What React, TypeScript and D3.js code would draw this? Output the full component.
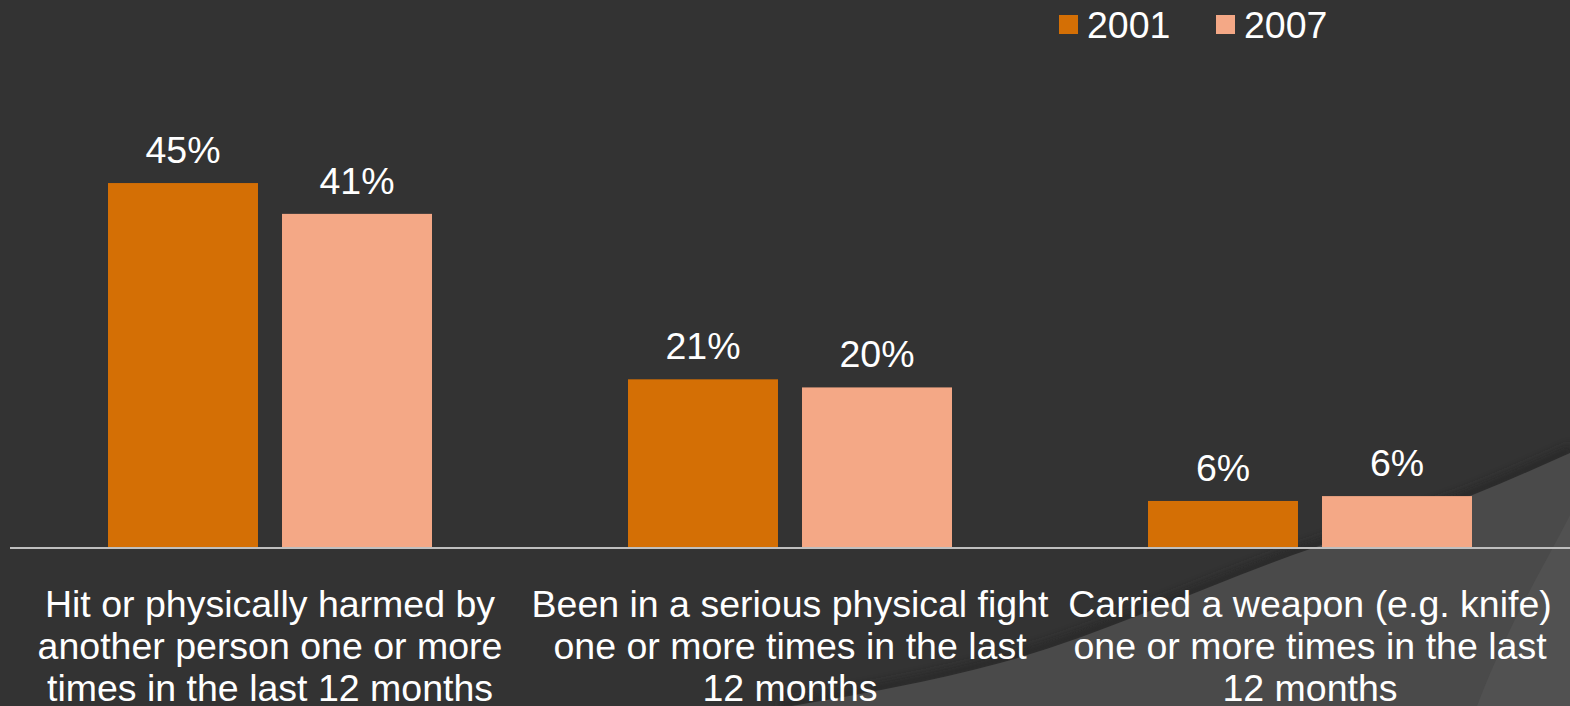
import React from "react";
import * as d3 from "d3";

const categories: string[][] = [
  ["Hit or physically harmed by", "another person one or more", "times in the last 12 months"],
  ["Been in a serious physical fight", "one or more times in the last", "12 months"],
  ["Carried a weapon (e.g. knife)", "one or more times in the last", "12 months"],
];
const seriesNames = ["2001", "2007"];
const values2001 = [45.0, 20.8, 5.8];
const values2007 = [41.2, 19.8, 6.4];
const colors = ["#D46F05", "#F4A886"];

const W = 1570;
const H = 706;

// background decoration edge (theme swoosh)
const swoosh: [number, number][] = [
  [780, 708],
  [1000, 663],
  [1313, 548],
  [1475, 494],
  [1572, 452],
];

export default function App() {
  const x0 = d3.scaleBand<number>().domain([0, 1, 2]).range([10, 1570]).paddingInner(0).paddingOuter(0);
  const groupW = 324;
  const x1 = d3
    .scaleBand<number>()
    .domain([0, 1])
    .range([0, groupW])
    .paddingInner(0.138)
    .paddingOuter(0);
  const y = d3.scaleLinear().domain([0, 50]).range([548, 142.5]);
  const series = [values2001, values2007];
  const font = "'Liberation Sans', Arial, sans-serif";
  const fs = 37.5;

  const edge = d3.line().curve(d3.curveMonotoneX)(swoosh) as string;
  const shadow = d3.line().curve(d3.curveMonotoneX)(swoosh.map(([a, b]) => [a, b - 3])) as string;

  return (
    <svg
      width={W}
      height={H}
      style={{ position: "absolute", left: 0, top: 0, display: "block" }}
      fontFamily={font}
    >
      <defs>
        <filter id="blur" x="-10%" y="-50%" width="120%" height="200%">
          <feGaussianBlur stdDeviation="4" />
        </filter>
      </defs>
      <rect x={0} y={0} width={W} height={H} fill="#333333" />
      <path d={shadow} fill="none" stroke="#262626" strokeWidth={8} filter="url(#blur)" opacity={0.8} />
      <path d={edge + " L 1572 708 Z"} fill="#4a4a4a" />
      <path d="M 1477 706 C 1510 620, 1545 565, 1570 515 L 1570 706 Z" fill="#515151" />

      {categories.map((_, ci) => {
        const gx = (x0(ci) as number) + (x0.bandwidth() - groupW) / 2;
        return (
          <g key={ci}>
            {series.map((vals, si) => {
              const bx = gx + (x1(si) as number);
              const v = vals[ci];
              return (
                <g key={si}>
                  <rect
                    x={bx}
                    y={y(v)}
                    width={x1.bandwidth()}
                    height={y(0) - y(v)}
                    fill={colors[si]}
                  />
                  <text
                    x={bx + x1.bandwidth() / 2}
                    y={y(v) - 20}
                    textAnchor="middle"
                    fill="#ffffff"
                    fontSize={fs}
                  >
                    {Math.round(v) + "%"}
                  </text>
                </g>
              );
            })}
          </g>
        );
      })}

      <line x1={10} x2={1570} y1={y(0)} y2={y(0)} stroke="#bfbfbf" strokeWidth={2} />

      {categories.map((lines, ci) => {
        const cx = (x0(ci) as number) + x0.bandwidth() / 2;
        return (
          <text key={ci} textAnchor="middle" fill="#ffffff" fontSize={fs}>
            {lines.map((l, li) => (
              <tspan key={li} x={cx} y={617 + li * 42}>
                {l}
              </tspan>
            ))}
          </text>
        );
      })}

      {seriesNames.map((name, si) => {
        const lx = 1059 + si * 157;
        return (
          <g key={name}>
            <rect x={lx} y={15} width={19} height={19} fill={colors[si]} />
            <text x={lx + 28} y={38} fill="#ffffff" fontSize={fs}>
              {name}
            </text>
          </g>
        );
      })}
    </svg>
  );
}
